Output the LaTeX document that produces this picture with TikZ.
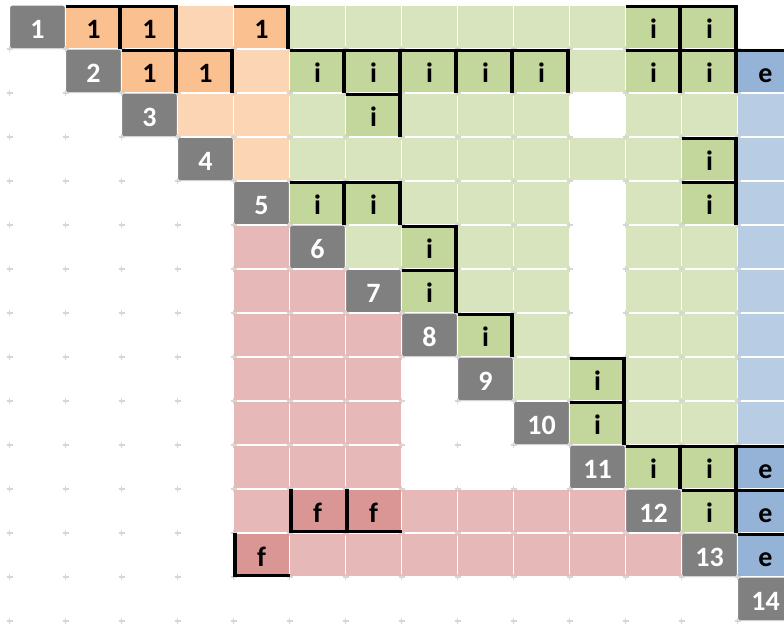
\documentclass[tikz,border=0pt]{standalone}
\usepackage{fontspec}
\setmainfont{Carlito}
\definecolor{cgray}{HTML}{808080}
\definecolor{orD}{HTML}{FAC090}
\definecolor{orL}{HTML}{FCD5B4}
\definecolor{grD}{HTML}{C3D69B}
\definecolor{grL}{HTML}{D7E4BD}
\definecolor{blD}{HTML}{95B3D7}
\definecolor{blL}{HTML}{B8CCE4}
\definecolor{pkD}{HTML}{DA9694}
\definecolor{pkL}{HTML}{E6B8B7}
\definecolor{markgray}{HTML}{D6D6D6}
\tikzset{
  cellbase/.style={rectangle, minimum width=56pt, minimum height=44pt, inner sep=0pt, outer sep=0pt,
    draw=white, line width=1.3pt, font=\fontsize{28}{28}\selectfont\bfseries, text=black,
    text height=22pt, text depth=0pt},
  gc/.style={cellbase, fill=cgray, text=white, rounded corners=2.5pt},
  od/.style={cellbase, fill=orD},
  ol/.style={cellbase, fill=orL},
  gd/.style={cellbase, fill=grD},
  gl/.style={cellbase, fill=grL},
  bd/.style={cellbase, fill=blD},
  bl/.style={cellbase, fill=blL},
  pd/.style={cellbase, fill=pkD},
  pl/.style={cellbase, fill=pkL},
  bord/.style={line width=3.6pt, black, line join=miter},
  gridmark/.style={markgray, line width=1.3pt}
}
\begin{document}
\begin{tikzpicture}[x=1pt,y=1pt]
\useasboundingbox (0,0) rectangle (784,-624);
\clip (0,0) rectangle (784,-624);
% filled cells with text
\foreach \r/\c/\s/\t in {
  1/1/gc/1, 1/2/od/1, 1/3/od/1, 1/5/od/1, 1/12/gd/i, 1/13/gd/i,
  2/2/gc/2, 2/3/od/1, 2/4/od/1, 2/6/gd/i, 2/7/gd/i, 2/8/gd/i, 2/9/gd/i, 2/10/gd/i, 2/12/gd/i, 2/13/gd/i, 2/14/bd/e,
  3/3/gc/3, 3/7/gd/i,
  4/4/gc/4, 4/13/gd/i,
  5/5/gc/5, 5/6/gd/i, 5/7/gd/i, 5/13/gd/i,
  6/6/gc/6, 6/8/gd/i,
  7/7/gc/7, 7/8/gd/i,
  8/8/gc/8, 8/9/gd/i,
  9/9/gc/9, 9/11/gd/i,
  10/10/gc/10, 10/11/gd/i,
  11/11/gc/11, 11/12/gd/i, 11/13/gd/i, 11/14/bd/e,
  12/6/pd/f, 12/7/pd/f, 12/12/gc/12, 12/13/gd/i, 12/14/bd/e,
  13/5/pd/f, 13/13/gc/13, 13/14/bd/e,
  14/14/gc/14}
  \node[\s] (cell-\r-\c) at ({37.5+56*(\c-1)},{-27-44*(\r-1)}) {\t};
% plain cells without text
\foreach \r/\c/\s in {
  1/4/ol, 1/6/gl, 1/7/gl, 1/8/gl, 1/9/gl, 1/10/gl, 1/11/gl,
  2/5/ol, 2/11/gl,
  3/4/ol, 3/5/ol, 3/6/gl, 3/8/gl, 3/9/gl, 3/10/gl, 3/12/gl, 3/13/gl, 3/14/bl,
  4/5/ol, 4/6/gl, 4/7/gl, 4/8/gl, 4/9/gl, 4/10/gl, 4/11/gl, 4/12/gl, 4/14/bl,
  5/8/gl, 5/9/gl, 5/10/gl, 5/12/gl, 5/14/bl,
  6/5/pl, 6/7/gl, 6/9/gl, 6/10/gl, 6/12/gl, 6/13/gl, 6/14/bl,
  7/5/pl, 7/6/pl, 7/9/gl, 7/10/gl, 7/12/gl, 7/13/gl, 7/14/bl,
  8/5/pl, 8/6/pl, 8/7/pl, 8/10/gl, 8/12/gl, 8/13/gl, 8/14/bl,
  9/5/pl, 9/6/pl, 9/7/pl, 9/10/gl, 9/12/gl, 9/13/gl, 9/14/bl,
  10/5/pl, 10/6/pl, 10/7/pl, 10/12/gl, 10/13/gl, 10/14/bl,
  11/5/pl, 11/6/pl, 11/7/pl,
  12/5/pl, 12/8/pl, 12/9/pl, 12/10/pl, 12/11/pl,
  13/6/pl, 13/7/pl, 13/8/pl, 13/9/pl, 13/10/pl, 13/11/pl, 13/12/pl}
  \node[\s] (cell-\r-\c) at ({37.5+56*(\c-1)},{-27-44*(\r-1)}) {};
% faint grid marks at intersections
\foreach \k in {0,...,13}
  \foreach \m in {1,...,14} {
    \draw[gridmark] ({9.5+56*\k-3},{-5-44*\m}) -- ({9.5+56*\k+3},{-5-44*\m});
    \draw[gridmark] ({9.5+56*\k},{-5-44*\m-3}) -- ({9.5+56*\k},{-5-44*\m+3});
  }
% thick borders: top and right
\foreach \n in {cell-1-2, cell-1-3, cell-1-5, cell-1-12, cell-1-13,
  cell-2-3, cell-2-4, cell-2-6, cell-2-7, cell-2-8, cell-2-9, cell-2-10, cell-2-12, cell-2-13,
  cell-3-7, cell-4-13, cell-5-6, cell-5-7, cell-5-13, cell-6-8, cell-7-8, cell-8-9,
  cell-9-11, cell-10-11, cell-11-12, cell-11-13, cell-12-13}
  \draw[bord] ([yshift=-1.6pt]\n.north west) -- ([shift={(-1.6pt,-1.6pt)}]\n.north east) -- ([xshift=-1.6pt]\n.south east);
% thick borders: top only
\foreach \n in {cell-2-14, cell-11-14, cell-12-14, cell-13-14}
  \draw[bord] ([yshift=-1.6pt]\n.north west) -- ([yshift=-1.6pt]\n.north east);
% thick borders: left and bottom
\foreach \n in {cell-12-6, cell-12-7, cell-13-5}
  \draw[bord] ([xshift=1.6pt]\n.north west) -- ([shift={(1.6pt,1.6pt)}]\n.south west) -- ([yshift=1.6pt]\n.south east);
\end{tikzpicture}
\end{document}
